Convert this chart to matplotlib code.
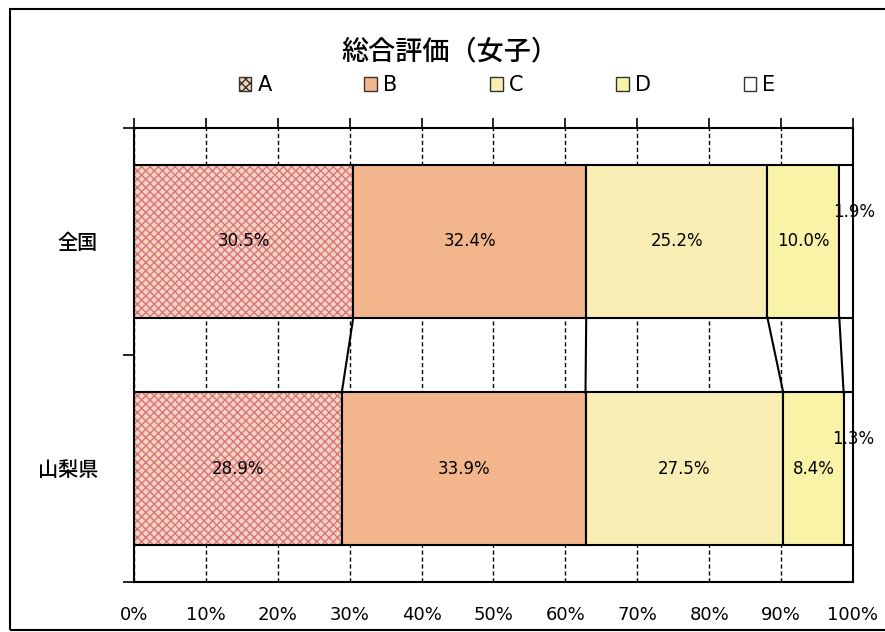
import numpy as np
import matplotlib.pyplot as plt
from matplotlib.patches import Patch, Rectangle

plt.rcParams['font.family'] = ['DejaVu Sans', 'Noto Sans CJK JP']

regions = ['全国', '山梨県']
grades = ['A', 'B', 'C', 'D', 'E']
shares = {
    'A': [30.5, 28.9],
    'B': [32.4, 33.9],
    'C': [25.2, 27.5],
    'D': [10.0, 8.4],
    'E': [1.9, 1.3],
}
colors = ['#f4d6b4', '#f3b68c', '#f8eeb4', '#f8f3a6', '#ffffff']
hatches = ['xxxx', None, None, None, None]

fig = plt.figure(figsize=(8.85, 6.32), dpi=100)
ax = fig.add_axes([0.1514, 0.0791, 0.8124, 0.7184])

y = np.arange(len(regions))
h = 0.67
left = np.zeros(len(regions))
handles = []
cums = []
for g, c, ht in zip(grades, colors, hatches):
    vals = np.array(shares[g])
    if ht:
        ax.barh(y, vals, h, left=left, color=c, hatch=ht, edgecolor='#d9728c', linewidth=0, zorder=2)
        ax.barh(y, vals, h, left=left, facecolor='none', edgecolor='black', linewidth=1.5, zorder=3)
    else:
        ax.barh(y, vals, h, left=left, color=c, edgecolor='black', linewidth=1.5, zorder=3)
    for i, v in enumerate(vals):
        if g == 'E':
            ax.text(left[i] + v + 0.1, y[i] - 0.13, f'{v:.1f}%', ha='center', va='center',
                    fontsize=12, zorder=5)
        else:
            ax.text(left[i] + v / 2, y[i], f'{v:.1f}%', ha='center', va='center',
                    fontsize=12, zorder=5)
    left = left + vals
    cums.append(left.copy())
    handles.append(Patch(facecolor=c, hatch=ht, edgecolor='#333333', linewidth=1, label=g))

# series lines between the two bars
for cum in cums[:-1]:
    ax.plot([cum[0], cum[1]], [y[0] + h / 2, y[1] - h / 2], color='black', lw=1.5, zorder=4)

ax.set_xlim(0, 100)
ax.set_ylim(1.5, -0.5)
ax.set_xticks(np.arange(0, 101, 10))
ax.set_xticklabels([f'{t}%' for t in range(0, 101, 10)], fontsize=13)
ax.tick_params(axis='x', top=True, bottom=False, labeltop=False, labelbottom=True,
               direction='out', length=7, width=1.2, pad=10)
ax.grid(axis='x', color='black', linestyle=(0, (3, 2)), linewidth=1, zorder=1)

ax.set_yticks(y)
ax.set_yticklabels(regions, fontsize=14.5, fontweight='medium')
ax.tick_params(axis='y', length=0, pad=26)
ax.set_yticks([-0.5, 0.5, 1.5], minor=True)
ax.tick_params(axis='y', which='minor', length=8, width=1.2, direction='out')

for s in ax.spines.values():
    s.set_linewidth(1.5)
    s.set_color('black')

fig.text(0.508, 0.917, '総合評価（女子）', ha='center', va='center', fontsize=19.5,
         fontweight='medium')
fig.legend(handles=handles, loc='center', bbox_to_anchor=(0.573, 0.865), ncol=5,
           frameon=False, fontsize=15, handlelength=0.6, handleheight=0.6,
           handletextpad=0.3, columnspacing=4.45)

fig.patches.append(Rectangle((10 / 885, 2 / 632), 1.0, 1 - 11 / 632, transform=fig.transFigure,
                             fill=False, edgecolor='black', linewidth=1.5))

fig.savefig('out.png', dpi=100)
